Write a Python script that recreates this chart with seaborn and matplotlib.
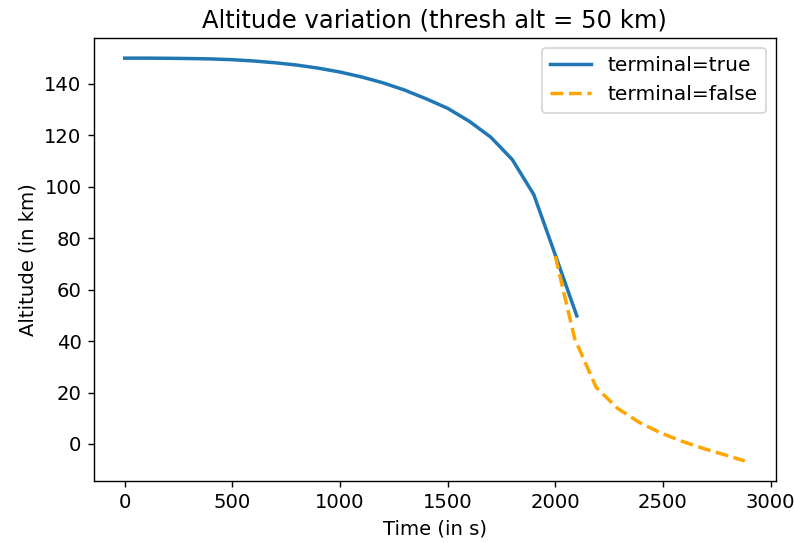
import numpy as np
import pandas as pd
import matplotlib
matplotlib.use("Agg")
import matplotlib.pyplot as plt
import seaborn as sns

# terminal=true run (stops at thresh alt)
t_true = [0, 100, 200, 300, 400, 500, 600, 700, 800, 900, 1000,
          1100, 1200, 1300, 1400, 1500, 1600, 1700, 1800, 1900, 2000, 2100]
alt_true = [150.0, 150.0, 149.95, 149.85, 149.7, 149.4, 148.9, 148.2, 147.3, 146.1, 144.6,
            142.7, 140.4, 137.6, 134.2, 130.5, 125.5, 119.3, 110.6, 97.0, 73.5, 49.8]

# terminal=false run (continues past threshold)
t_false = [2000, 2090, 2190, 2290, 2390, 2490, 2590, 2690, 2790, 2880]
alt_false = [73.0, 41.0, 22.0, 13.8, 8.4, 4.3, 1.0, -1.8, -4.3, -6.6]

df_true = pd.DataFrame({"time": t_true, "alt": alt_true})
df_false = pd.DataFrame({"time": t_false, "alt": alt_false})

plt.rcParams["xtick.labelsize"] = 11.3
plt.rcParams["ytick.labelsize"] = 11.3

fig, ax = plt.subplots(figsize=(6.352, 4.344), dpi=125)

sns.lineplot(data=df_true, x="time", y="alt", ax=ax, color="#1f77b4",
             linewidth=2, label="terminal=true")
sns.lineplot(data=df_false, x="time", y="alt", ax=ax, color="orange",
             linewidth=2, linestyle="--", label="terminal=false")

ax.set_title("Altitude variation (thresh alt = 50 km)", fontsize=14)
ax.set_xlabel("Time (in s)", fontsize=11.3)
ax.set_ylabel("Altitude (in km)", fontsize=11.3)
ax.legend(loc="upper right", fontsize=11.7)

fig.subplots_adjust(left=0.118, right=0.977, top=0.930, bottom=0.114)
fig.savefig("out.png", dpi=125)
